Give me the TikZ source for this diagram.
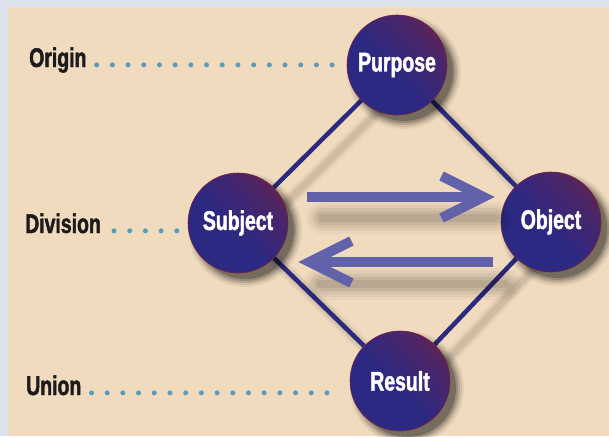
\documentclass[tikz,border=0pt]{standalone}
\usepackage{fontspec}
\newfontfamily\orbfont{Liberation Sans}[FakeStretch=0.72, BoldFeatures={FakeBold=1.6}]
\usetikzlibrary{arrows.meta,positioning}

\definecolor{panelbg}{HTML}{F1DBBF}
\definecolor{outerbg}{HTML}{DCE3EC}
\definecolor{orbnavy}{HTML}{2C2983}
\definecolor{orbred}{HTML}{762040}
\definecolor{linknavy}{HTML}{2B2A7E}
\definecolor{flowblue}{HTML}{6262AA}
\definecolor{dotblue}{HTML}{5C9BB5}
\definecolor{labelink}{HTML}{1C1A1A}

\pgfdeclarehorizontalshading{orbshade}{100bp}{color(0bp)=(orbnavy); color(45bp)=(orbnavy); color(68bp)=(orbnavy!60!orbred); color(85bp)=(orbred); color(100bp)=(orbred)}
\pgfdeclarelayer{canvas}
\pgfdeclarelayer{back}
\pgfdeclarelayer{shade}
\pgfsetlayers{canvas,back,shade,main}

\begin{document}
\begin{tikzpicture}[x=1pt, y=-1pt,
    orb/.style={circle, minimum size=100pt, inner sep=0pt, draw=orbred, line width=0.6pt,
                shading=orbshade, shading angle=45, text=white,
                font=\orbfont\fontsize{27}{27}\selectfont\bfseries},
    tag/.style={anchor=base west, inner sep=0pt, text=labelink,
                font=\orbfont\fontsize{27}{27}\selectfont\bfseries},
    link/.style={draw=linknavy, line width=4.5pt},
    dotline/.style={draw=dotblue, line width=5pt, line cap=round, dash pattern=on 0pt off 15.7pt},
    flow/.style={draw=flowblue, line width=10pt, -{Straight Barb[length=42pt,width=42pt]}}]
    \useasboundingbox (0,0) rectangle (609,436);
    \begin{pgfonlayer}{canvas}
        \fill[outerbg] (0,0) rectangle (609,436);
        \fill[panelbg] (8,7) rectangle (609,436);
    \end{pgfonlayer}

    % the four stations
    \node[orb] (purpose) at (397,65) {Purpose};
    \node[orb] (subject) at (238,223) {Subject};
    \node[orb] (object) at (551,222) {Object};
    \node[orb] (result) at (400,381) {Result};

    % soft shadows of the stations
    \begin{pgfonlayer}{shade}
        \foreach \n in {purpose,subject,object,result} {
            \foreach \r/\o in {57/0.06,55/0.08,53/0.12,51/0.16,49/0.22} {
                \fill[black, opacity=\o] ([shift={(7pt,-7pt)}]\n.center) circle (\r);
            }
        }
    \end{pgfonlayer}

    % side labels
    \node[tag] (origin) at (29,67) {Origin};
    \node[tag] (division) at (25,233) {Division};
    \node[tag] (union) at (26,395) {Union};

    \draw[dotline] ([xshift=10pt]origin.mid east) -- ([xshift=-10pt]purpose.west |- origin.mid east);
    \draw[dotline] ([xshift=13pt]division.mid east) -- ([xshift=-9pt]subject.west |- division.mid east);
    \draw[dotline] ([xshift=10pt]union.mid east) -- ([xshift=-8pt]result.west |- union.mid east);

    % diamond behind the stations
    \begin{pgfonlayer}{back}
        \foreach \w/\o in {14/0.04,10/0.05,6/0.06} {
            \draw[black, opacity=\o, line width=\w pt, transform canvas={xshift=14pt,yshift=-14pt}]
                (purpose.center) -- (object.center) -- (result.center) -- (subject.center) -- cycle;
        }
        \draw[link] (purpose) -- (object) -- (result) -- (subject) -- (purpose);
    \end{pgfonlayer}

    % exchange arrows with soft shadows
    \foreach \w/\o in {32/0.03,26/0.04,20/0.05,14/0.06,8/0.07} {
        \draw[black, opacity=\o, line width=\w pt, line cap=round, transform canvas={xshift=15pt,yshift=-21pt}]
            ([shift={(19pt,26pt)}]subject.east) -- ([shift={(-20pt,25pt)}]object.west);
        \draw[black, opacity=\o, line width=\w pt, line cap=round, transform canvas={xshift=12pt,yshift=-22pt}]
            ([shift={(-8pt,-40pt)}]object.west) -- ([shift={(20pt,-39pt)}]subject.east);
    }
    \draw[flow] ([shift={(19pt,26pt)}]subject.east) -- ([shift={(-6pt,25pt)}]object.west);
    \draw[flow] ([shift={(-8pt,-40pt)}]object.west) -- ([shift={(10pt,-39pt)}]subject.east);
\end{tikzpicture}
\end{document}
